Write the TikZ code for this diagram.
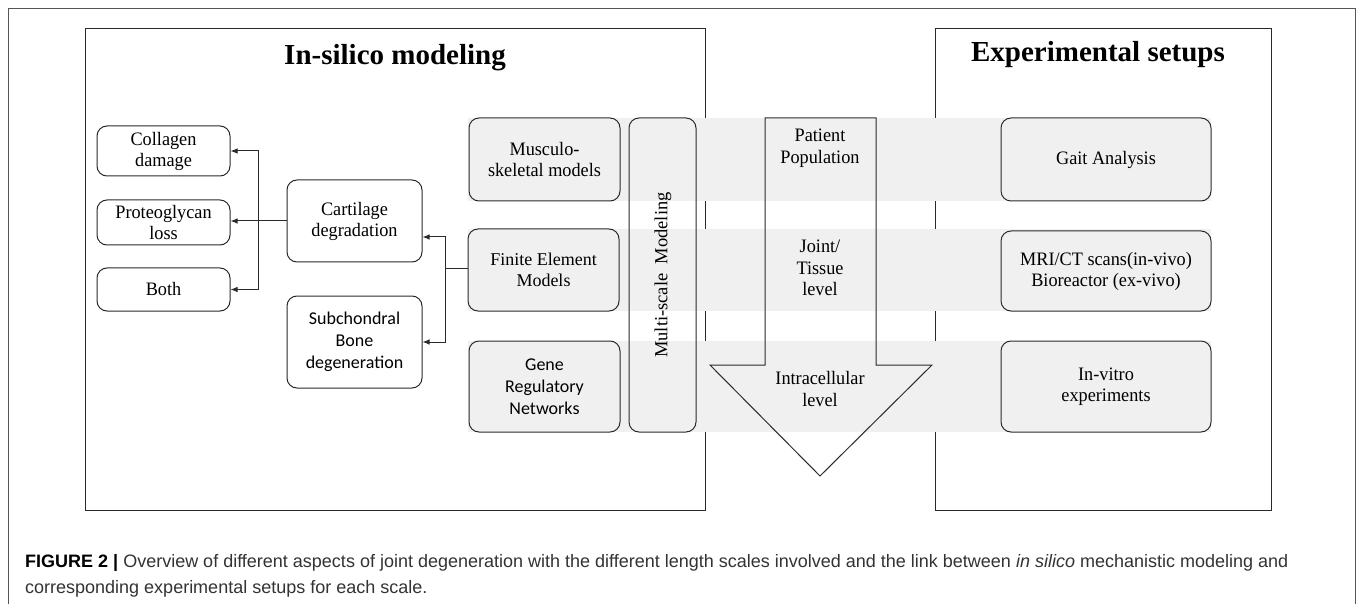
\documentclass[tikz,border=0pt]{standalone}
\usepackage{fontspec}
\setmainfont{Liberation Serif}
\newfontfamily\boxserif[FakeStretch=0.96]{Liberation Serif}
\newfontfamily\calib{Carlito}
\newfontfamily\capfont{Liberation Sans}
\usetikzlibrary{arrows.meta}
\definecolor{band}{HTML}{F0F0F0}
\definecolor{edge}{HTML}{2A2A2A}
\definecolor{frame}{HTML}{555555}
\begin{document}
\begin{tikzpicture}[x=1pt,y=-1pt,
  box/.style={draw=edge, line width=1pt, rounded corners=10pt, align=center, inner sep=0pt,
    font=\boxserif\fontsize{19}{21}\selectfont},
  panel/.style={draw=edge, line width=1pt},
  arr/.style={-{Latex[length=7pt,width=5.5pt]}, line width=1pt, draw=edge},
  lin/.style={line width=1pt, draw=edge},
  bandfill/.style={fill=band, draw=none},
  lbl/.style={align=center, inner sep=0pt, font=\boxserif\fontsize{19}{21.5}\selectfont},
  ttl/.style={anchor=base, inner sep=0pt, font=\fontsize{29}{30}\selectfont\bfseries}]
\useasboundingbox (0,0) rectangle (1358,604);
\fill[white] (0,0) rectangle (1358,604);
% outer frame
\draw[frame, line width=1pt] (8,604) -- (8,9) -- (1355,9) -- (1355,604);
% panels
\draw[panel] (85,29) rectangle (705,510);
\draw[panel] (935,29) rectangle (1271,510);
% bands
\fill[bandfill] (468,118) rectangle (1211,201);
\fill[bandfill] (468,229) rectangle (1211,311);
\fill[bandfill] (468,341) rectangle (1211,432);
% titles
\node[ttl] (t1) at (395,65) {In-silico modeling};
\node[ttl] (t2) at (1098,62) {Experimental setups};
% left column
\node[box, minimum width=133pt, minimum height=50pt] (coll) at (163.5,151) {Collagen\\damage};
\node[box, minimum width=133pt, minimum height=45pt] (prot) at (163.5,222.5) {Proteoglycan\\loss};
\node[box, minimum width=133pt, minimum height=43pt] (both) at (163.5,289.5) {Both};
\node[box, minimum width=135pt, minimum height=82pt] (cart) at (354.5,221) {Cartilage\\degradation};
\node[box, minimum width=135pt, minimum height=92pt, font=\calib\fontsize{18}{22}\selectfont] (sub) at (354.5,342) {Subchondral\\Bone\\degeneration};
\node[box, minimum width=151pt, minimum height=83pt] (musc) at (544.5,159.5) {Musculo-\\skeletal models};
\node[box, minimum width=151pt, minimum height=82pt, font=\fontsize{18}{21.5}\selectfont] (fe) at (543.5,270) {Finite Element\\Models};
\node[box, minimum width=151pt, minimum height=91pt, font=\calib\fontsize{18}{22}\selectfont] (gene) at (544.5,386.5) {Gene\\Regulatory\\Networks};
\node[box, minimum width=67pt, minimum height=314pt] (multi) at (662.5,275) {};
\node[lbl, rotate=90, font=\fontsize{18.5}{20}\selectfont] (multit) at (663,275) {Multi-scale\ \ Modeling};
% connectors
\coordinate (j1) at (258,221);
\coordinate (j2) at (445,269);
\draw[lin] (cart.west) -- (j1);
\draw[arr] (j1) -- (prot.east |- j1);
\draw[arr] (j1) |- (coll.east);
\draw[arr] (j1) |- (both.east);
\draw[lin] (fe.west |- j2) -- (j2);
\draw[arr] (j2) |- ([yshift=-16pt]cart.east);
\draw[arr] (j2) |- (sub.east);
% big arrow
\draw[lin, line join=miter] (765,118) -- (876,118) -- (876,365) -- (932,365) -- (820,476) -- (710,365) -- (765,365) -- cycle;
\node[lbl] (pp) at (820,148) {Patient\\Population};
\node[lbl] (jt) at (820,268) {Joint/\\Tissue\\level};
\node[lbl] (ic) at (820,389) {Intracellular\\level};
% right column
\node[box, minimum width=210pt, minimum height=83pt] (gait) at (1106,159.5) {Gait Analysis};
\node[box, minimum width=210pt, minimum height=80pt] (mri) at (1106,271) {MRI/CT scans(in-vivo)\\Bioreactor (ex-vivo)};
\node[box, minimum width=210pt, minimum height=91pt] (vitro) at (1106,386.5) {In-vitro\\experiments};
% caption
\node[anchor=base west, inner sep=0pt, font=\capfont\fontsize{18}{20}\selectfont, text=black!80] (cap1) at (25,567)
  {{\bfseries\color{black}FIGURE 2 |} Overview of different aspects of joint degeneration with the different length scales involved and the link between \textit{in silico} mechanistic modeling and};
\node[anchor=base west, inner sep=0pt, font=\capfont\fontsize{18}{20}\selectfont, text=black!80] (cap2) at (25,593)
  {corresponding experimental setups for each scale.};
\end{tikzpicture}
\end{document}
